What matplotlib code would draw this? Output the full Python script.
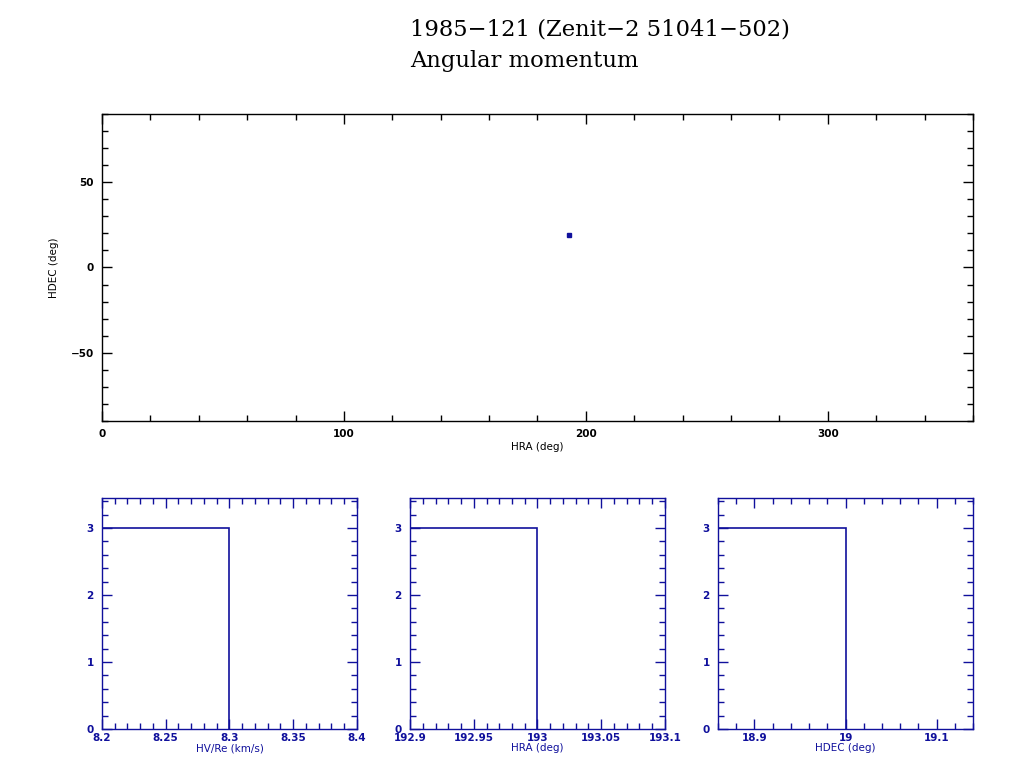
import matplotlib
matplotlib.use("Agg")
import matplotlib.pyplot as plt
from matplotlib.ticker import MultipleLocator, FormatStrFormatter

# data
title_lines = ["1985\u2212121 (Zenit\u22122 51041\u2212502)", "Angular momentum"]
hra = [193.0]
hdec = [19.0]

hv_edges = [8.2, 8.3]
hv_counts = [3]
hra_edges = [192.9, 193.0]
hra_counts = [3]
hdec_edges = [18.86, 19.0]
hdec_counts = [3]

navy = "#10109c"

fig = plt.figure(figsize=(10.24, 7.68), dpi=100)
fig.patch.set_facecolor("white")

for i, line in enumerate(title_lines):
    fig.text(0.4004, 0.961 - i * 0.04, line, family="DejaVu Serif",
             fontsize=16.3, va="center", ha="left", color="black")


def style_axes(ax, color, xmaj, xmin, ymaj, ymin):
    for s in ax.spines.values():
        s.set_color(color)
        s.set_linewidth(1.0)
    ax.xaxis.set_major_locator(MultipleLocator(xmaj))
    ax.xaxis.set_minor_locator(MultipleLocator(xmin))
    ax.yaxis.set_major_locator(MultipleLocator(ymaj))
    ax.yaxis.set_minor_locator(MultipleLocator(ymin))
    ax.tick_params(which="both", direction="in", top=True, right=True,
                   colors=color, labelsize=7.5, width=1)
    ax.tick_params(which="major", length=7, pad=6)
    ax.tick_params(which="minor", length=4)
    for lab in ax.get_xticklabels() + ax.get_yticklabels():
        lab.set_fontweight("bold")


# top panel: direction of angular momentum
ax = fig.add_axes([0.0996, 0.4518, 0.8506, 0.3998])
ax.plot(hra, hdec, "s", color=navy, markersize=2.5)
ax.set_xlim(0, 360)
ax.set_ylim(-90, 90)
style_axes(ax, "black", 100, 20, 50, 10)
ax.set_xlabel("HRA (deg)", fontsize=7.5, labelpad=2)
ax.set_ylabel("HDEC (deg)", fontsize=7.5, labelpad=8)

# bottom histograms
panels = [
    (0.0996, hv_edges, hv_counts, (8.2, 8.4), 0.05, 0.01, "HV/Re (km/s)"),
    (0.4004, hra_edges, hra_counts, (192.9, 193.1), 0.05, 0.01, "HRA (deg)"),
    (0.7012, hdec_edges, hdec_counts, (18.86, 19.14), 0.1, 0.02, "HDEC (deg)"),
]
for left, edges, counts, xlim, xmaj, xmin, label in panels:
    a = fig.add_axes([left, 0.0508, 0.249, 0.3008])
    a.stairs(counts, edges, color=navy, linewidth=1.2, baseline=0)
    a.set_xlim(*xlim)
    a.set_ylim(0, 3.45)
    style_axes(a, navy, xmaj, xmin, 1, 0.2)
    a.xaxis.set_major_formatter(FormatStrFormatter("%g"))
    a.tick_params(which="major", axis="x", pad=3)
    a.set_xlabel(label, fontsize=7.5, color=navy, labelpad=0)

fig.savefig("out.png", dpi=100, facecolor="white")
